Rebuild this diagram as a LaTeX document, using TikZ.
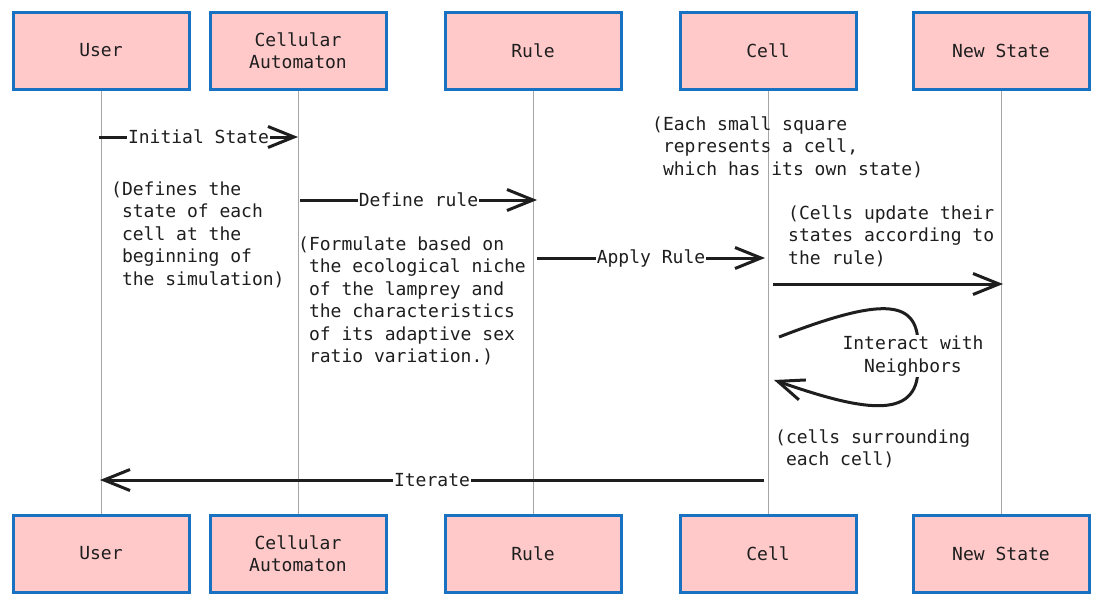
\documentclass[tikz,border=0pt]{standalone}
\usepackage{fontspec}
\setmonofont{DejaVu Sans Mono}
\usetikzlibrary{arrows.meta, positioning}
\definecolor{boxfill}{HTML}{FFC9C9}
\definecolor{boxline}{HTML}{1971C2}
\definecolor{ink}{HTML}{1E1E1E}
\newcommand{\seqfont}{\ttfamily\fontsize{18}{22.5}\selectfont}
\tikzset{
    actor/.style={rectangle, draw=boxline, line width=3pt, fill=boxfill, align=center, minimum width=176pt, minimum height=77pt, font=\seqfont, text=ink},
    lifeline/.style={draw=gray!70, line width=1pt},
    arrow/.style={draw=ink, line width=3pt, -{Straight Barb[length=26pt, width=21pt]}},
    msglabel/.style={fill=white, inner sep=1pt, font=\seqfont, text=ink},
    note/.style={anchor=north west, align=left, inner sep=0pt, font=\seqfont, text=ink}
}

\begin{document}
\begin{tikzpicture}[x=1pt, y=-1pt]

    \useasboundingbox (0,0) rectangle (1100,603);

    % Participants
    \node (user) [actor] at (101,50.5) {User};
    \node (automaton) [actor, right=18pt of user] {Cellular\\Automaton};
    \node (rule) [actor, right=56pt of automaton] {Rule};
    \node (cell) [actor, right=56pt of rule] {Cell};
    \node (newstate) [actor, right=54pt of cell] {New State};

    \node (userb) [actor, below=423pt of user] {User};
    \node (automatonb) [actor, below=423pt of automaton] {Cellular\\Automaton};
    \node (ruleb) [actor, below=423pt of rule] {Rule};
    \node (cellb) [actor, below=423pt of cell] {Cell};
    \node (newstateb) [actor, below=423pt of newstate] {New State};

    % Lifelines
    \draw [lifeline] (user) -- (userb);
    \draw [lifeline] (automaton) -- (automatonb);
    \draw [lifeline] (rule) -- (ruleb);
    \draw [lifeline] (cell) -- (cellb);
    \draw [lifeline] (newstate) -- (newstateb);

    % Message ends
    \coordinate (init1) at (99,137);   \coordinate (init2) at (298,137);
    \coordinate (def1) at (300,200);   \coordinate (def2) at (537,200);
    \coordinate (app1) at (537,258);   \coordinate (app2) at (765,258);
    \coordinate (upd1) at (773,284);   \coordinate (upd2) at (1003,284);
    \coordinate (loop1) at (779,337);  \coordinate (loop2) at (774,380);
    \coordinate (iter1) at (764,480);  \coordinate (iter2) at (100,480);

    % Messages
    \draw [arrow] (init1) -- node[msglabel] (linit) {Initial State} (init2);
    \draw [arrow] (def1) -- node[msglabel] (ldef) {Define rule} (def2);
    \draw [arrow] (app1) -- node[msglabel] (lapp) {Apply Rule} (app2);
    \draw [arrow] (upd1) -- (upd2);
    \draw [arrow] (loop1) .. controls (880,298) and (918,298) .. (918,345) -- (918,368) .. controls (918,422) and (860,410) .. (loop2);
    \node (lnbr) [msglabel, align=center] at (913,356) {Interact with\\Neighbors};
    \draw [arrow] (iter1) -- node[msglabel] (liter) {Iterate} (iter2);

    % Notes
    \node (n1) [note] at (111,181.5) {(Defines the\\\ state of each\\\ cell at the\\\ beginning of\\\ the simulation)};
    \node (n2) [note] at (298,236.5) {(Formulate based on\\\ the ecological niche\\\ of the lamprey and\\\ the characteristics\\\ of its adaptive sex\\\ ratio variation.)};
    \node (n3) [note] at (652,116.5) {(Each small square\\\ represents a cell,\\\ which has its own state)};
    \node (n4) [note] at (788,205.5) {(Cells update their\\states according to\\the rule)};
    \node (n5) [note] at (775,429.5) {(cells surrounding\\\ each cell)};

\end{tikzpicture}
\end{document}
